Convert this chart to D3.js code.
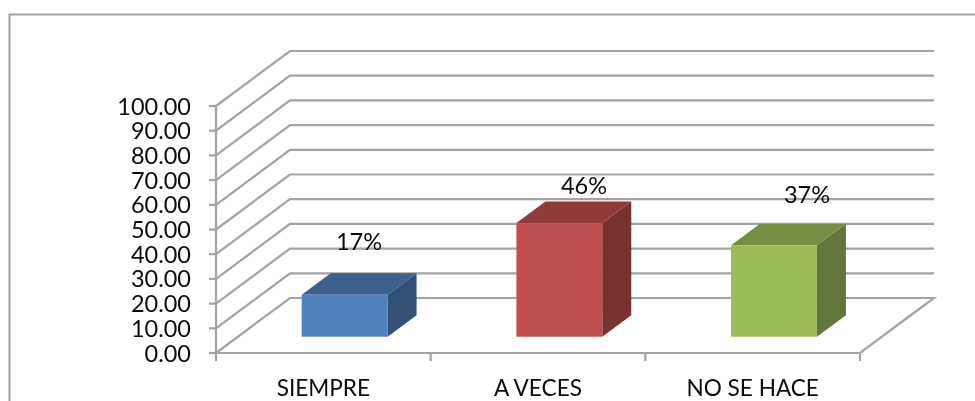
<!DOCTYPE html>
<html><head><meta charset="utf-8">
<script src="https://cdn.jsdelivr.net/npm/d3@7"></script>
<style>html,body{margin:0;background:#fff}svg{display:block;filter:blur(0.4px)}text{font-family:Lato,"Open Sans",sans-serif;fill:#0c0c0c}</style>
</head><body><script>
const categories = ["SIEMPRE", "A VECES", "NO SE HACE"];
const values = [17, 46, 37];
const valueLabels = ["17%", "46%", "37%"];
const yTicks = [0,10,20,30,40,50,60,70,80,90,100];
const frontColors = ["#4f81bd", "#c0504d", "#9bbb59"];
const topColors = ["#3c618f", "#913c3a", "#758e43"];
const sideColors = ["#325178", "#7a3230", "#62773a"];

const W=975,H=401;
const svg=d3.select("body").append("svg").attr("width",W).attr("height",H);
const x=d3.scaleBand().domain(categories).range([216,860]).paddingInner(0.6).paddingOuter(0.3);
const y=d3.scaleLinear().domain([0,100]).range([353,106]);
const zx=d3.scaleLinear().domain([0,1]).range([0,74]);
const zy=d3.scaleLinear().domain([0,1]).range([0,-55]);
const grey="#a3a3a3";

svg.append("path").attr("d","M9.5,401V14.5H975").attr("fill","none").attr("stroke","#a0a0a0").attr("stroke-width",2);

const g=svg.append("g").attr("fill","none").attr("stroke",grey).attr("stroke-width",2.2);
const x0=x.range()[0],x1=x.range()[1];
yTicks.forEach(t=>{
  if(t===0) return;
  g.append("path").attr("d",`M${x0},${y(t)}L${x0+zx(1)},${y(t)+zy(1)}H${x1+zx(1)}`);
});
g.append("path").attr("d",`M${x0},${y(0)}L${x0+zx(1)},${y(0)+zy(1)}H${x1+zx(1)}L${x1},${y(0)}H${x0}`);
g.append("path").attr("d",`M${x0},${y(100)}V${y(0)}`);
yTicks.forEach(t=>g.append("path").attr("d",`M${x0-7},${y(t)}H${x0}`));
const step=(x1-x0)/categories.length;
d3.range(categories.length+1).forEach(i=>g.append("path").attr("d",`M${x0+i*step},${y(0)}v8`));

svg.append("g").selectAll("text").data(yTicks).join("text")
  .attr("x",191).attr("y",d=>y(d)+8.5).attr("text-anchor","end").attr("font-size",23.5)
  .text(d=>d3.format(".2f")(d));

const zFront=0.288,zBack=0.68;
const bars=svg.append("g").selectAll("g").data(categories).join("g");
bars.each(function(c,i){
  const b=d3.select(this),l=x(c)+zx(zFront),r=l+x.bandwidth();
  const base=y(0)+zy(0.296),top=y(values[i])+zy(0.296);
  const dx=zx(zBack-zFront),dy=zy(zBack-zFront);
  b.append("path").attr("fill",sideColors[i]).attr("d",`M${r},${base}L${r+dx},${base+dy}V${top+dy}L${r},${top}Z`);
  b.append("path").attr("fill",topColors[i]).attr("d",`M${l},${top}L${l+dx},${top+dy}H${r+dx}L${r},${top}Z`);
  b.append("rect").attr("fill",frontColors[i]).attr("x",l).attr("y",top).attr("width",x.bandwidth()).attr("height",base-top);
});

const labelY=[250,194,203], labelX=[359,584,807];
svg.append("g").selectAll("text").data(valueLabels).join("text")
  .attr("x",(d,i)=>labelX[i]).attr("y",(d,i)=>labelY[i]).attr("text-anchor","middle").attr("font-size",23.5).text(d=>d);
svg.append("g").selectAll("text").data(categories).join("text")
  .attr("x",c=>x(c)+x.bandwidth()/2).attr("y",396).attr("text-anchor","middle").attr("font-size",22.6).text(d=>d);
</script></body></html>
